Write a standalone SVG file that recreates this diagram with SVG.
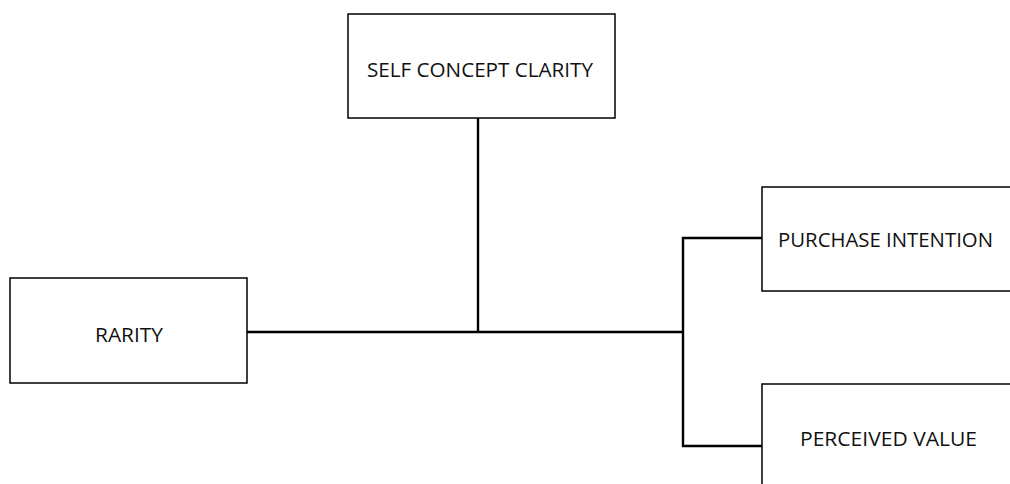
<svg xmlns="http://www.w3.org/2000/svg" width="1010" height="484" viewBox="0 0 1010 484">
  <style>
    .box { fill: #ffffff; stroke: #000000; stroke-width: 1.5; }
    .lbl { font-family: "Open Sans", "Liberation Sans", sans-serif; font-size: 19.5px; fill: #111111; }
    .wire { fill: none; stroke: #000000; stroke-width: 2.4; }
  </style>
  <rect width="1010" height="484" fill="#ffffff"/>

  <!-- connectors -->
  <g id="connectors">
    <line class="wire" x1="247" y1="332" x2="683" y2="332"/>
    <line class="wire" x1="478" y1="118" x2="478" y2="332"/>
    <polyline class="wire" points="762,238 683,238 683,446 762,446"/>
  </g>

  <g id="self-concept-clarity">
    <rect class="box" x="348" y="14" width="267" height="104"/>
    <text class="lbl" x="367" y="77" textLength="226" lengthAdjust="spacingAndGlyphs">SELF CONCEPT CLARITY</text>
  </g>

  <g id="rarity">
    <rect class="box" x="10" y="278" width="237" height="105"/>
    <text class="lbl" x="95" y="342" textLength="68" lengthAdjust="spacingAndGlyphs">RARITY</text>
  </g>

  <g id="purchase-intention">
    <rect class="box" x="762" y="187" width="270" height="104"/>
    <text class="lbl" x="778" y="247" textLength="215" lengthAdjust="spacingAndGlyphs">PURCHASE INTENTION</text>
  </g>

  <g id="perceived-value">
    <rect class="box" x="762" y="384" width="270" height="120"/>
    <text class="lbl" x="800" y="446" textLength="177" lengthAdjust="spacingAndGlyphs">PERCEIVED VALUE</text>
  </g>
</svg>
